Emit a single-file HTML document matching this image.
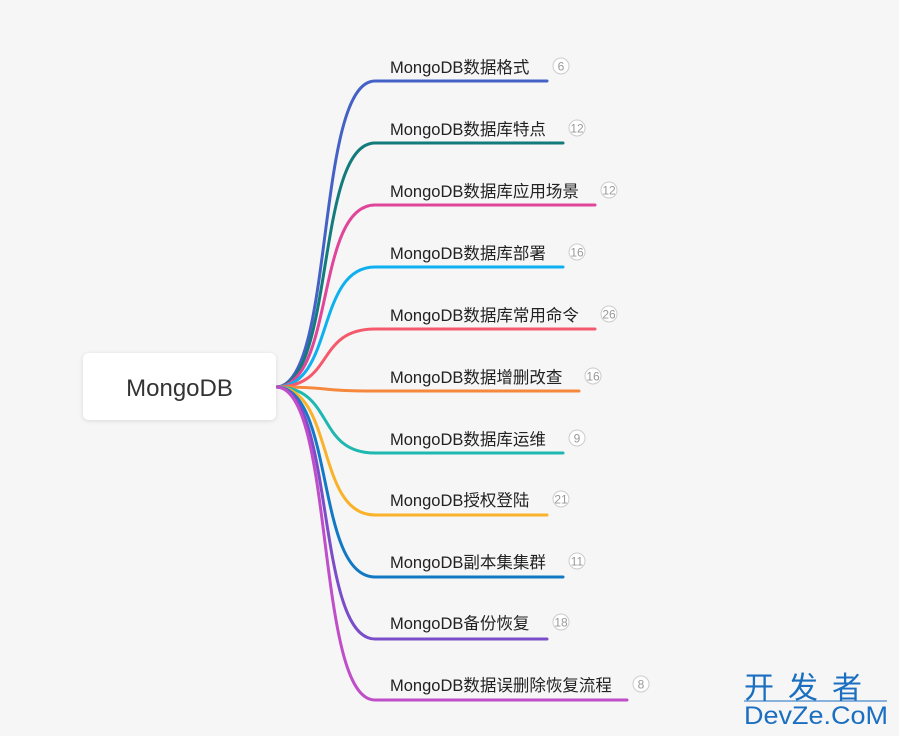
<!DOCTYPE html>
<html><head><meta charset="utf-8"><style>
body{margin:0;background:#f6f6f6;width:899px;height:736px;overflow:hidden;font-family:"Liberation Sans","Noto Sans CJK SC",sans-serif}
</style></head><body>
<svg width="899" height="736" xmlns="http://www.w3.org/2000/svg" style="position:absolute;left:0;top:0">
<defs><filter id="s" x="-20%" y="-20%" width="140%" height="160%"><feDropShadow dx="0" dy="1" stdDeviation="2" flood-color="#000" flood-opacity="0.12"/></filter></defs>
<g fill="none" stroke-width="3" stroke-linecap="round">
<path d="M276 387 C335 387 315 81 375 81 H547" stroke="#4462c6"/>
<path d="M276 387 C335 387 315 143 375 143 H563" stroke="#137b7b"/>
<path d="M276 387 C335 387 315 205 375 205 H595" stroke="#e0459a"/>
<path d="M276 387 C335 387 315 267 375 267 H563" stroke="#0fb0f0"/>
<path d="M276 387 C335 387 315 329 375 329 H595" stroke="#f45a6c"/>
<path d="M276 387 C335 387 315 391 375 391 H579" stroke="#f5883c"/>
<path d="M276 387 C335 387 315 453 375 453 H563" stroke="#1fb8b0"/>
<path d="M276 387 C335 387 315 515 375 515 H547" stroke="#f9b22a"/>
<path d="M276 387 C335 387 315 577 375 577 H563" stroke="#1379c4"/>
<path d="M276 387 C335 387 315 639 375 639 H547" stroke="#7b4dc9"/>
<path d="M276 387 C335 387 315 700 375 700 H627" stroke="#c04ec9"/>
</g>
<rect x="83" y="353" width="193" height="67" rx="6" fill="#fff" filter="url(#s)"/>
<text x="179.5" y="396" font-size="24" text-anchor="middle" fill="#333">MongoDB</text>
<g font-size="16.5" fill="#222">
<text x="390" y="73">MongoDB数据格式</text>
<text x="390" y="135">MongoDB数据库特点</text>
<text x="390" y="197">MongoDB数据库应用场景</text>
<text x="390" y="259">MongoDB数据库部署</text>
<text x="390" y="321">MongoDB数据库常用命令</text>
<text x="390" y="383">MongoDB数据增删改查</text>
<text x="390" y="445">MongoDB数据库运维</text>
<text x="390" y="506">MongoDB授权登陆</text>
<text x="390" y="568">MongoDB副本集集群</text>
<text x="390" y="629">MongoDB备份恢复</text>
<text x="390" y="691">MongoDB数据误删除恢复流程</text>
</g>
<g fill="#fff" stroke="#ccc" stroke-width="1">
<circle cx="561" cy="66" r="8"/><circle cx="577" cy="128" r="8"/><circle cx="609" cy="190" r="8"/>
<circle cx="577" cy="252" r="8"/><circle cx="609" cy="314" r="8"/><circle cx="593" cy="376" r="8"/>
<circle cx="577" cy="438" r="8"/><circle cx="561" cy="499" r="8"/><circle cx="577" cy="561" r="8"/>
<circle cx="561" cy="622" r="8"/><circle cx="641" cy="684" r="8"/>
</g>
<g font-size="12" fill="#999" text-anchor="middle">
<text x="561" y="70.5">6</text><text x="577" y="132.5">12</text><text x="609" y="194.5">12</text>
<text x="577" y="256.5">16</text><text x="609" y="318.5">26</text><text x="593" y="380.5">16</text>
<text x="577" y="442.5">9</text><text x="561" y="503.5">21</text><text x="577" y="565.5">11</text>
<text x="561" y="626.5">18</text><text x="641" y="688.5">8</text>
</g>
<text x="744" y="698" font-size="30" fill="#1a6fc0" letter-spacing="14">开发者</text>
<line x1="744" y1="701" x2="887" y2="701" stroke="#1a6fc0" stroke-width="1"/>
<text x="744" y="724" font-size="25" fill="#1a6fc0" textLength="144" lengthAdjust="spacingAndGlyphs">DevZe.CoM</text>
</svg>
</body></html>
